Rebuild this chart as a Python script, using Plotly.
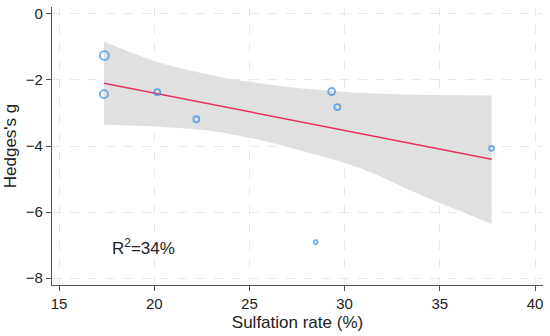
import plotly.graph_objects as go

# Study points
sulfation = [17.38, 17.36, 20.16, 22.21, 29.32, 29.62, 37.72, 28.48]
hedges_g = [-1.26, -2.43, -2.37, -3.19, -2.35, -2.82, -4.07, -6.91]
weights = [9, 8, 6, 6, 7, 6, 5, 4]

# Fitted line
fit_x = [17.36, 37.72]
fit_y = [-2.10, -4.40]

# Confidence band
band_x = [17.36, 20.3, 23.46, 26.6, 30.8, 33.96, 37.72]
band_upper = [-0.84, -1.48, -1.91, -2.18, -2.39, -2.45, -2.47]
band_lower = [-3.36, -3.42, -3.58, -3.97, -4.67, -5.48, -6.36]

x_ticks = [15, 20, 25, 30, 35, 40]
y_ticks = [0, -2, -4, -6, -8]

fig = go.Figure()
fig.add_trace(go.Scatter(
    x=band_x, y=band_lower, mode="lines",
    line=dict(width=0, shape="spline", smoothing=0.8),
    hoverinfo="skip", showlegend=False))
fig.add_trace(go.Scatter(
    x=band_x, y=band_upper, mode="lines", fill="tonexty", fillcolor="#e0e0e0",
    line=dict(width=0, shape="spline", smoothing=0.8),
    hoverinfo="skip", showlegend=False))
fig.add_trace(go.Scatter(
    x=fit_x, y=fit_y, mode="lines", line=dict(color="#e8325a", width=1.5),
    showlegend=False))
fig.add_trace(go.Scatter(
    x=sulfation, y=hedges_g, mode="markers",
    marker=dict(symbol="circle-open", size=weights, color="#2f8fe0",
                line=dict(width=1.8, color="#2f8fe0")),
    showlegend=False))

fig.add_annotation(x=19.41, y=-7.06, text="R<sup>2</sup>=34%", showarrow=False,
                   font=dict(size=17, color="#222"))

axis_common = dict(
    showline=True, linecolor="#555", linewidth=1.2, ticks="outside", ticklen=5,
    tickcolor="#555", showgrid=True, gridcolor="#e8e8e8", griddash="dash",
    gridwidth=1, zeroline=False, tickfont=dict(size=15, color="#222"),
    mirror=False, automargin=False)

fig.update_layout(
    width=550, height=336,
    margin=dict(l=52, r=7, t=7, b=51),
    paper_bgcolor="white", plot_bgcolor="white",
    font=dict(family="Liberation Sans, Arial, sans-serif", color="#222"),
    xaxis=dict(range=[14.63, 40.42], tickvals=x_ticks,
               title=dict(text="Sulfation rate (%)", font=dict(size=17), standoff=5),
               **axis_common),
    yaxis=dict(range=[-8.21, 0.21], tickvals=y_ticks,
               title=dict(text="Hedges's g", font=dict(size=17), standoff=4),
               **axis_common),
)

fig.write_html("out.html", config={"displayModeBar": False},
               post_script="document.body.style.margin='0';")
